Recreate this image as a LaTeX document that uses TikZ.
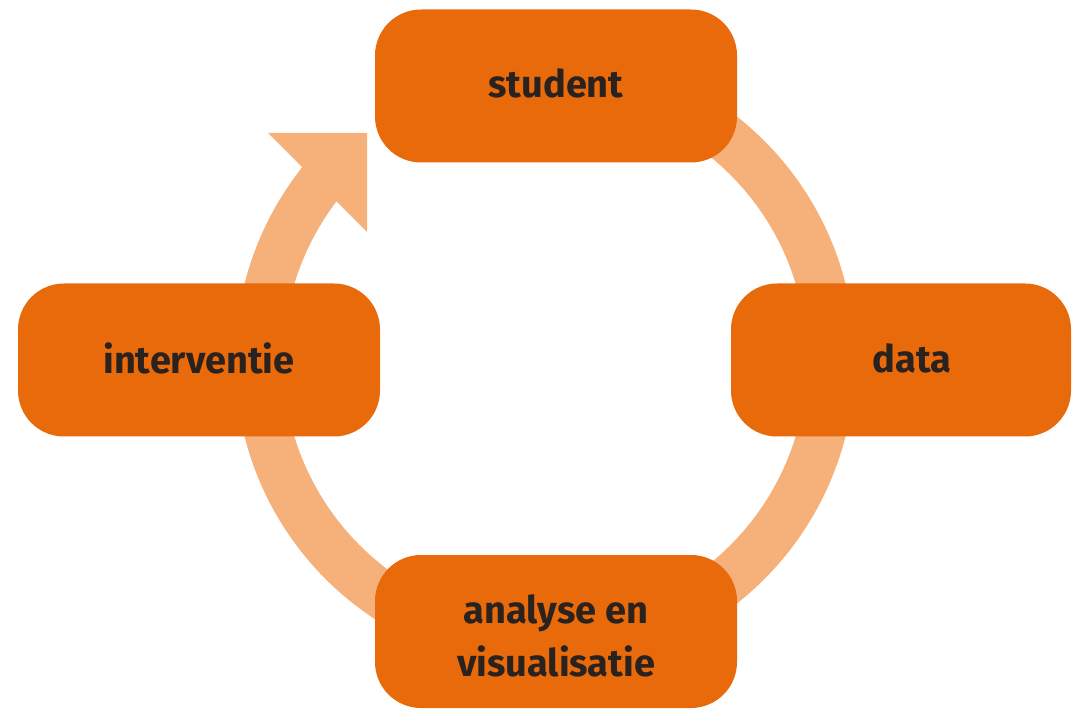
\documentclass[tikz,border=0pt]{standalone}
\usepackage{fontspec}
\setmainfont{Fira Sans}
\usetikzlibrary{calc}
\begin{document}
\begin{tikzpicture}[x=1pt,y=1pt]
\definecolor{boxor}{RGB}{233,106,10}
\definecolor{ringor}{RGB}{246,176,122}
\definecolor{txt}{RGB}{42,34,30}
\tikzset{
  stage/.style={fill=boxor, rounded corners=46pt, minimum width=362pt,
    minimum height=153pt, inner sep=0pt, text=txt, align=center,
    font=\fontsize{38}{53}\selectfont\bfseries},
  ring/.style={draw=ringor, line width=48pt},
  ringhead/.style={fill=ringor}
}
\useasboundingbox (0,0) rectangle (1073,710);
\coordinate (c) at (545,350);
% ring with arrow head
\draw[ring] (c) ++(95:286) arc[start angle=95, end angle=-221, radius=286];
\fill[ringhead] ($(c)+(-178,227)$) -- ($(c)+(-277,227)$) -- ($(c)+(-178,128)$) -- cycle;
% stages
\node[stage] (student) at (556,624) {\raisebox{6pt}{student}};
\node[stage] (interventie) at (199,350) {\raisebox{3pt}{interventie}};
\node[stage, minimum width=340pt] (data) at (901,350) {\hspace*{22pt}\raisebox{3pt}{data}};
\node[stage] (analyse) at (556,78.5) {\rule{0pt}{38pt}analyse en\\visualisatie};
\end{tikzpicture}
\end{document}
